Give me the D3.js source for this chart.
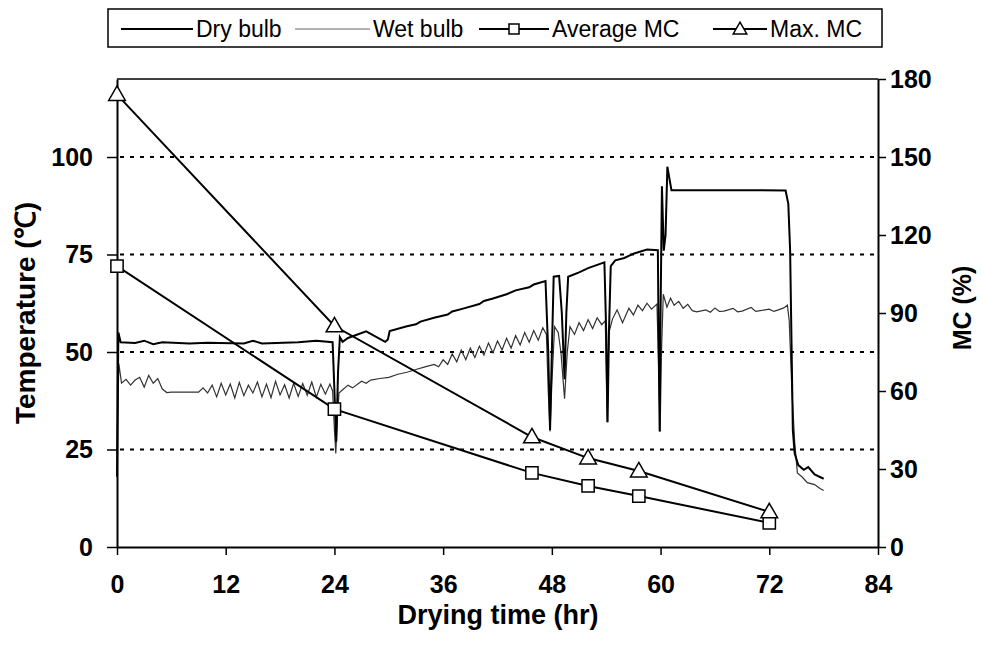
<!DOCTYPE html>
<html>
<head>
<meta charset="utf-8">
<script src="https://cdn.jsdelivr.net/npm/d3@7"></script>
<style>
  body { margin: 0; background: #fff; }
  svg { font-family: "Liberation Sans", Arial, sans-serif; }
  .tick text { font-weight: bold; font-size: 25px; fill: #000; }
</style>
</head>
<body>
<script>

// x axis (hr)
var timeTicks = [0, 12, 24, 36, 48, 60, 72, 84];
var tempTicks = [0, 25, 50, 75, 100];
var mcTicks = [0, 30, 60, 90, 120, 150, 180];

// moisture content samples (%)
var mcTime = [0, 24, 45.8, 52, 57.6, 72];
var avgMC = [108, 53, 28.5, 23.5, 19.6, 9.3];
var maxMC = [174, 85, 42.3, 34.2, 29.2, 13.5];

// dry bulb temperature [hr, C]
var dryBulb = [
  [0, 18], [0.15, 55], [0.4, 52.5], [2, 52.3], [3, 52.9], [4, 52], [5, 52.5],
  [8, 52.2], [10, 52.4], [14, 52.2], [15, 52.9], [16, 52.2], [20, 52.5],
  [22, 52.9], [23.8, 52.5], [24.0, 40], [24.2, 27], [24.4, 45], [24.6, 53.8],
  [24.9, 52.6], [25.5, 53.6], [27.5, 55.3], [29.6, 52.6], [29.9, 53.2],
  [30.1, 55.4], [32, 56.6], [33, 57.1], [33.5, 57.8], [35, 58.8], [36.5, 59.6],
  [37, 60.4], [38, 61], [40, 62.3], [40.5, 63.1], [41.5, 63.7], [43, 64.8],
  [44, 65.8], [45.5, 66.6], [46, 67.3], [47.3, 68.2], [47.6, 50], [47.8, 30],
  [48.0, 50], [48.2, 69.3], [48.8, 69.5], [49.1, 60], [49.4, 43], [49.6, 60],
  [49.8, 69.3], [51, 70.4], [52, 71.5], [53.8, 73],
  [54.0, 55], [54.15, 32], [54.3, 55], [54.5, 72], [55, 73.5], [56, 74.1],
  [57, 75.2], [58.5, 76.3], [59.7, 76.1], [59.8, 50], [59.9, 29.6], [60.0, 60],
  [60.15, 92.5], [60.35, 76], [60.55, 80], [60.75, 97.5], [61.2, 91.5],
  [65, 91.5], [70, 91.5], [73.8, 91.4], [74.1, 88], [74.3, 76], [74.6, 30],
  [74.8, 24], [75.2, 21], [75.8, 19.8], [76.3, 20.5], [77, 18.6], [78, 17.5]
];

// wet bulb temperature [hr, C]
var wetBulb = [
  [0, 25], [0.2, 47], [0.5, 42], [1, 43], [1.5, 41.5], [2, 42.8], [2.5, 43.5],
  [3, 41], [3.5, 44], [4, 42], [4.5, 43.2], [5, 40.5], [5.5, 39.6], [6, 39.7],
  [9, 39.7], [9.5, 40.8], [10, 39.5], [10.5, 41.5], [11, 38.5], [11.5, 42],
  [12, 39], [12.5, 41.8], [13, 38.2], [13.5, 42.2], [14, 38.8], [14.5, 41.5],
  [15, 39.5], [15.5, 42.3], [16, 38.5], [16.5, 41.8], [17, 38.3], [17.5, 42.5],
  [18, 39], [18.5, 41.6], [19, 38.2], [19.5, 42], [20, 38.6], [20.5, 41.9],
  [21, 38.9], [21.5, 42.3], [22, 38.4], [22.5, 41.7], [23, 39.2], [23.5, 41.8],
  [23.8, 40], [24.0, 30], [24.15, 24], [24.3, 32], [24.5, 39.5], [25, 40.5],
  [25.5, 41.5], [26, 40.8], [27, 42.5], [27.5, 42], [28, 42.8], [29, 43.2],
  [30, 43.5], [31, 44.3], [32, 44.8], [33, 45.5], [34, 46.2], [35, 46.8],
  [35.5, 46.2], [36, 48], [36.5, 46.8], [37, 49.5], [37.5, 47.5], [38, 50.5],
  [38.5, 48], [39, 51], [39.5, 48.6], [40, 51.5], [40.5, 49.2], [41, 52.3],
  [41.5, 49.8], [42, 52.8], [42.5, 50.5], [43, 53.5], [43.5, 51], [44, 54.2],
  [44.5, 51.8], [45, 55], [45.5, 52.5], [46, 55.5], [46.5, 53], [47, 56.2],
  [47.4, 54.5], [47.6, 40], [47.8, 29.6], [48.0, 42], [48.3, 56.5], [48.7, 55],
  [49.0, 50], [49.4, 38], [49.7, 50], [50, 56.5], [50.5, 54.5], [51, 57.5],
  [51.5, 55.5], [52, 58.3], [52.5, 56], [53, 58.8], [53.5, 57], [53.9, 58],
  [54.1, 32], [54.3, 55], [54.7, 58.5], [55.2, 60.8], [55.8, 57.5],
  [56.5, 61.2], [57, 59.5], [57.5, 62], [58, 60.6], [58.5, 62.5], [59, 61],
  [59.6, 62.3], [59.8, 45], [59.95, 29.6], [60.1, 50], [60.3, 64.8],
  [60.7, 61.5], [61.1, 63.8], [61.5, 62], [62, 63], [62.5, 61.2], [63, 62.2],
  [63.5, 60.6], [64, 60.3], [65, 60.8], [65.5, 60.2], [66, 61.3], [66.5, 60.4],
  [67, 60.5], [68, 61.2], [68.5, 60.3], [69, 60.5], [70, 61.4], [70.5, 60.4],
  [71, 60.6], [72, 61], [72.5, 60.4], [73, 60.8], [73.6, 61.3], [74, 62],
  [74.2, 58], [74.5, 40], [74.8, 27], [75.1, 19], [75.6, 18], [76.2, 16.5],
  [77, 16], [77.6, 15], [78, 14.5]
];

var width = 983,
    height = 651;

var plotL = 117, plotR = 878, plotT = 79, plotB = 547;

var svg = d3.select("body").append("svg")
    .attr("width", width)
    .attr("height", height);

var x = d3.scaleLinear().domain([0, 84]).range([plotL, plotR]);
var yT = d3.scaleLinear().domain([0, 120]).range([plotB, plotT]);
var yM = d3.scaleLinear().domain([0, 180]).range([plotB, plotT]);

// dashed grid on the temperature ticks
svg.append("g").selectAll("line")
    .data(tempTicks.slice(1))
  .enter().append("line")
    .attr("x1", plotL + 3).attr("x2", plotR - 2)
    .attr("y1", function(d) { return yT(d); })
    .attr("y2", function(d) { return yT(d); })
    .attr("stroke", "#000")
    .attr("stroke-width", 2.2)
    .attr("stroke-dasharray", "4,6");

// top frame
svg.append("line")
    .attr("x1", plotL).attr("x2", plotR)
    .attr("y1", plotT).attr("y2", plotT)
    .attr("stroke", "#000").attr("stroke-width", 1.5);

// axes
var gx = svg.append("g")
    .attr("transform", "translate(0," + plotB + ")")
    .call(d3.axisBottom(x).tickValues(timeTicks).tickSize(8).tickSizeOuter(0).tickPadding(20));

var gl = svg.append("g")
    .attr("transform", "translate(" + plotL + ",0)")
    .call(d3.axisLeft(yT).tickValues(tempTicks).tickSize(10).tickSizeOuter(0).tickPadding(14));

var gr = svg.append("g")
    .attr("transform", "translate(" + plotR + ",0)")
    .call(d3.axisRight(yM).tickValues(mcTicks).tickSize(8).tickSizeOuter(0).tickPadding(4));

[gx, gl, gr].forEach(function(g) {
  g.select(".domain").attr("stroke-width", 2);
  g.selectAll(".tick line").attr("stroke-width", 1.5);
});

// temperature curves
var tLine = d3.line()
    .x(function(d) { return x(d[0]); })
    .y(function(d) { return yT(d[1]); });

svg.append("path")
    .datum(wetBulb)
    .attr("d", tLine)
    .attr("fill", "none")
    .attr("stroke", "#333")
    .attr("stroke-width", 1.2);

svg.append("path")
    .datum(dryBulb)
    .attr("d", tLine)
    .attr("fill", "none")
    .attr("stroke", "#000")
    .attr("stroke-width", 2);

// moisture content curves
var mLine = d3.line()
    .x(function(d, i) { return x(mcTime[i]); })
    .y(function(d) { return yM(d); });

svg.append("path").datum(avgMC).attr("d", mLine)
    .attr("fill", "none").attr("stroke", "#000").attr("stroke-width", 2);
svg.append("path").datum(maxMC).attr("d", mLine)
    .attr("fill", "none").attr("stroke", "#000").attr("stroke-width", 2);

var square = d3.symbol().type(d3.symbolSquare).size(150);
var triangle = d3.symbol().type(d3.symbolTriangle).size(120);
var squareSmall = d3.symbol().type(d3.symbolSquare).size(100);
var triangleSmall = d3.symbol().type(d3.symbolTriangle).size(80);

svg.append("g").selectAll("path")
    .data(avgMC)
  .enter().append("path")
    .attr("d", square)
    .attr("transform", function(d, i) { return "translate(" + x(mcTime[i]) + "," + yM(d) + ")"; })
    .attr("fill", "#fff").attr("stroke", "#000").attr("stroke-width", 1.5);

svg.append("g").selectAll("path")
    .data(maxMC)
  .enter().append("path")
    .attr("d", triangle)
    .attr("transform", function(d, i) { return "translate(" + x(mcTime[i]) + "," + (yM(d) + 1) + ")"; })
    .attr("fill", "#fff").attr("stroke", "#000").attr("stroke-width", 1.5);

// axis titles
svg.append("text")
    .attr("x", 498).attr("y", 624)
    .attr("text-anchor", "middle")
    .attr("font-weight", "bold").attr("font-size", 27)
    .text("Drying time (hr)");

svg.append("text")
    .attr("transform", "translate(35,313) rotate(-90)")
    .attr("text-anchor", "middle")
    .attr("font-weight", "bold").attr("font-size", 28)
    .text("Temperature (\u2103)");

svg.append("text")
    .attr("transform", "translate(971,308) rotate(-90)")
    .attr("text-anchor", "middle")
    .attr("font-weight", "bold").attr("font-size", 25)
    .text("MC (%)");

// legend
var legendNames = ["Dry bulb", "Wet bulb", "Average MC", "Max. MC"];
var legendLineX = [[121, 193], [295, 370], [479, 549], [713, 767]];

var legend = svg.append("g");
legend.append("rect")
    .attr("x", 108).attr("y", 9)
    .attr("width", 774).attr("height", 38)
    .attr("fill", "#fff").attr("stroke", "#000").attr("stroke-width", 1.5);

legendNames.forEach(function(name, i) {
  var lx = legendLineX[i];
  legend.append("line")
      .attr("x1", lx[0]).attr("x2", lx[1])
      .attr("y1", 29).attr("y2", 29)
      .attr("stroke", i === 1 ? "#666" : "#000")
      .attr("stroke-width", i === 1 ? 1.2 : 2);
  if (i === 2) {
    legend.append("path").attr("d", squareSmall)
        .attr("transform", "translate(" + (lx[0] + lx[1]) / 2 + ",29)")
        .attr("fill", "#fff").attr("stroke", "#000").attr("stroke-width", 1.5);
  }
  if (i === 3) {
    legend.append("path").attr("d", triangleSmall)
        .attr("transform", "translate(" + (lx[0] + lx[1]) / 2 + ",30)")
        .attr("fill", "#fff").attr("stroke", "#000").attr("stroke-width", 1.5);
  }
  legend.append("text")
      .attr("x", lx[1] + 3).attr("y", 37)
      .attr("font-size", 23)
      .text(name);
});

</script>
</body>
</html>
